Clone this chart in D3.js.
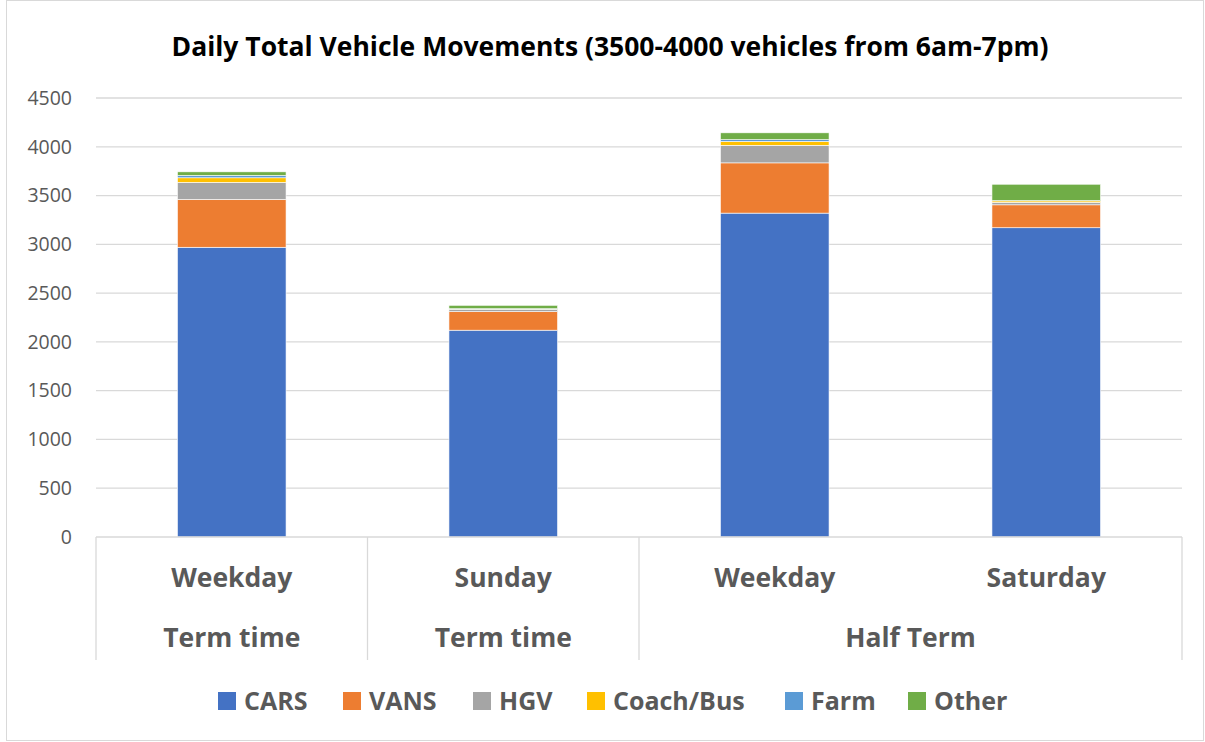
<!DOCTYPE html>
<html>
<head>
<meta charset="utf-8">
<script src="https://cdn.jsdelivr.net/npm/d3@7"></script>
<style>
  body { margin: 0; background: #fff; }
  svg { display: block; font-family: "Open Sans", "Liberation Sans", sans-serif; }
</style>
</head>
<body>
<svg id="chart"></svg>
<script>
// chart values
const days = ["Weekday", "Sunday", "Weekday", "Saturday"];
const periods = ["Term time", "Term time", "Half Term", "Half Term"];
const seriesNames = ["CARS", "VANS", "HGV", "Coach/Bus", "Farm", "Other"];
const cars = [2970, 2120, 3320, 3170];
const vans = [490, 190, 515, 235];
const hgv = [175, 20, 180, 25];
const coach = [47, 5, 40, 15];
const farm = [24, 5, 18, 3];
const other = [37, 35, 70, 168];
const yTicks = [0, 500, 1000, 1500, 2000, 2500, 3000, 3500, 4000, 4500];
const colors = ["#4472C4", "#ED7D31", "#A5A5A5", "#FFC000", "#5B9BD5", "#70AD47"];

const W = 1205, H = 742;
const margin = {top: 98, right: 23, bottom: 205, left: 96};
const width = W - margin.left - margin.right;
const height = H - margin.top - margin.bottom;

const svg = d3.select("#chart").attr("width", W).attr("height", H);

// chart border
svg.append("rect")
    .attr("x", 6.5).attr("y", 0.5)
    .attr("width", W - 8).attr("height", H - 2)
    .attr("fill", "none").attr("stroke", "#d9d9d9");

// title
svg.append("text")
    .attr("x", 610).attr("y", 56)
    .attr("text-anchor", "middle")
    .attr("font-size", 26.5).attr("font-weight", "bold")
    .attr("fill", "#000")
    .text("Daily Total Vehicle Movements (3500-4000 vehicles from 6am-7pm)");

const g = svg.append("g").attr("transform", `translate(${margin.left},${margin.top})`);

const idx = d3.range(days.length);
const x = d3.scaleBand().domain(idx).range([0, width]).paddingInner(0.6).paddingOuter(0.3);
const y = d3.scaleLinear().domain([0, 4500]).range([height, 0]);

// gridlines
g.append("g")
    .selectAll("line")
    .data(yTicks.slice(1))
    .join("line")
    .attr("x1", 0).attr("x2", width)
    .attr("y1", d => y(d)).attr("y2", d => y(d))
    .attr("stroke", "#d9d9d9").attr("stroke-width", 1.3);

// y axis labels
const yAxis = g.append("g")
    .call(d3.axisLeft(y).tickValues(yTicks).tickFormat(d3.format("d")).tickSize(0).tickPadding(24));
yAxis.select(".domain").remove();
yAxis.selectAll("text")
    .attr("font-size", 19.5).attr("fill", "#595959")
    .attr("font-family", "'Open Sans', 'Liberation Sans', sans-serif");

// stacked bars
const rows = idx.map(i => ({
    i,
    CARS: cars[i], VANS: vans[i], HGV: hgv[i],
    "Coach/Bus": coach[i], Farm: farm[i], Other: other[i]
}));
const stacked = d3.stack().keys(seriesNames)(rows);

g.append("g")
    .selectAll("g")
    .data(stacked)
    .join("g")
    .attr("fill", (d, k) => colors[k])
    .selectAll("rect")
    .data(d => d)
    .join("rect")
    .attr("x", d => x(d.data.i))
    .attr("width", x.bandwidth())
    .attr("y", d => y(d[1]))
    .attr("height", d => y(d[0]) - y(d[1]))
    .attr("stroke", "#fff").attr("stroke-width", 0.6);

// category axis (multi-level)
const step = width / days.length;
const axisG = g.append("g").attr("transform", `translate(0,${height})`);
axisG.append("line")
    .attr("x1", 0).attr("x2", width)
    .attr("stroke", "#d9d9d9").attr("stroke-width", 1.3);

// group separators
const groupBounds = [0, 1, 2, 4];
axisG.selectAll("line.sep")
    .data(groupBounds)
    .join("line")
    .attr("class", "sep")
    .attr("x1", d => d * step).attr("x2", d => d * step)
    .attr("y1", 0).attr("y2", 123)
    .attr("stroke", "#d9d9d9").attr("stroke-width", 1.3);

axisG.selectAll("text.day")
    .data(idx)
    .join("text")
    .attr("class", "day")
    .attr("x", i => x(i) + x.bandwidth() / 2)
    .attr("y", 50)
    .attr("text-anchor", "middle")
    .attr("font-size", 26.5).attr("font-weight", "bold").attr("fill", "#595959")
    .text(i => days[i]);

const groups = d3.groups(idx, i => periods[i] + "|" + (i < 2 ? i : "h"));
axisG.selectAll("text.period")
    .data(groups)
    .join("text")
    .attr("class", "period")
    .attr("x", d => (d3.min(d[1]) + d3.max(d[1]) + 1) / 2 * step)
    .attr("y", 110)
    .attr("text-anchor", "middle")
    .attr("font-size", 26.5).attr("font-weight", "bold").attr("fill", "#595959")
    .text(d => periods[d[1][0]]);

// legend
const legendX = [218, 343, 473, 587, 785, 908];
const legend = svg.append("g")
    .selectAll("g")
    .data(seriesNames)
    .join("g")
    .attr("transform", (d, k) => `translate(${legendX[k]},692)`);
legend.append("rect")
    .attr("width", 18).attr("height", 18)
    .attr("fill", (d, k) => colors[k]);
legend.append("text")
    .attr("x", 26).attr("y", 18)
    .attr("font-size", 25).attr("font-weight", "bold").attr("fill", "#595959")
    .text(d => d);
</script>
</body>
</html>
